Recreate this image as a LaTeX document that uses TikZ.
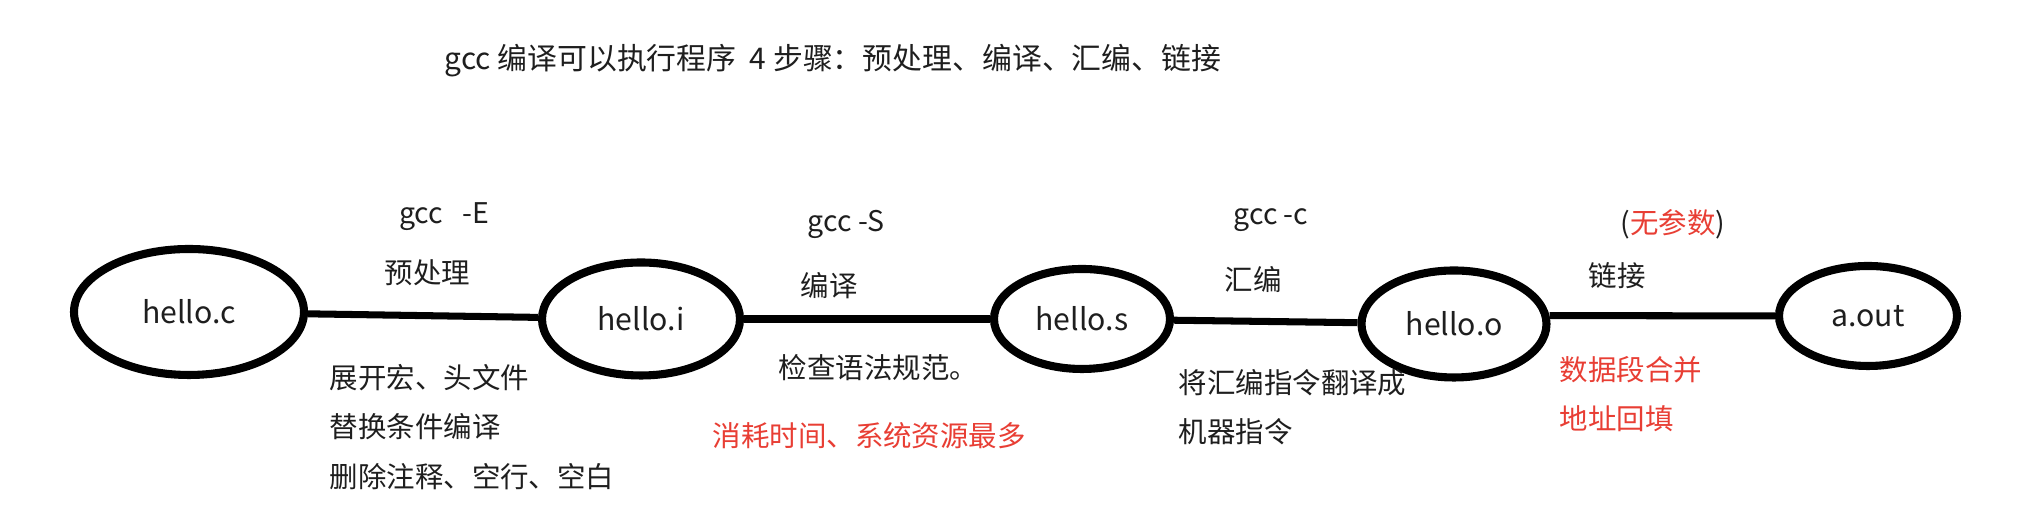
\documentclass[tikz,border=0pt]{standalone}
\usepackage{fontspec}
\setmainfont{Noto Sans CJK SC}
\definecolor{inkgray}{RGB}{30, 30, 30}
\definecolor{warnred}{RGB}{232, 62, 52}
\usepackage{tikz}
\usetikzlibrary{shapes.geometric, positioning}

\begin{document}
\begin{tikzpicture}[
  file/.style={draw=black, ellipse, line width=2.3pt, inner sep=0pt,
               font=\fontsize{8.6}{11}\selectfont, text=inkgray},
  link/.style={line width=2pt, black},
  note/.style={align=left, anchor=west, inner sep=0pt,
               font=\fontsize{8.1}{14}\selectfont, text=inkgray},
  warn/.style={note, text=warnred}
]
  \useasboundingbox (0,0) rectangle (20.41,5.12);
  \node[note, anchor=center, font=\fontsize{8.5}{11}\selectfont] (title) at (8.33,4.51) {gcc 编译可以执行程序\ \ 4 步骤：预处理、编译、汇编、链接};

  \node[file, minimum width=2.3cm, minimum height=1.26cm] (c) at (1.89,2.00) {hello.c};
  \node[file, minimum width=1.98cm, minimum height=1.13cm] (i) at (6.41,1.93) {hello.i};
  \node[file, minimum width=1.76cm, minimum height=1.0cm] (s) at (10.82,1.93) {hello.s};
  \node[file, minimum width=1.85cm, minimum height=1.07cm] (o) at (14.54,1.88) {hello.o};
  \node[file, minimum width=1.78cm, minimum height=1.0cm] (a) at (18.68,1.96) {a.out};

  \draw[link] (c) -- (i);
  \draw[link] (i) -- (s);
  \draw[link] (s) -- (o);
  \draw[link] (o.5) -- (a);

  \node[note, anchor=center] (optE) at (4.44,2.95) {gcc\ \ \ -E};
  \node[note] (pre) at (3.84,2.39) {预处理};
  \node[note] (preinfo) at (3.29,0.85) {展开宏、头文件\\替换条件编译\\删除注释、空行、空白};

  \node[note, anchor=center] (optS) at (8.46,2.88) {gcc -S};
  \node[note] (comp) at (8.00,2.26) {编译};
  \node[note] (compinfo) at (7.78,1.44) {检查语法规范。};
  \node[warn] (compcost) at (7.12,0.76) {消耗时间、系统资源最多};

  \node[note, anchor=center] (optc) at (12.71,2.92) {gcc -c};
  \node[note] (asm) at (12.24,2.32) {汇编};
  \node[note] (asminfo) at (11.78,1.05) {将汇编指令翻译成\\机器指令};

  \node[note, anchor=center] (noarg) at (16.73,2.88) {(\textcolor{warnred}{无参数})};
  \node[note] (ld) at (15.88,2.36) {链接};
  \node[warn] (ldinfo) at (15.59,1.18) {数据段合并\\地址回填};
\end{tikzpicture}
\end{document}
